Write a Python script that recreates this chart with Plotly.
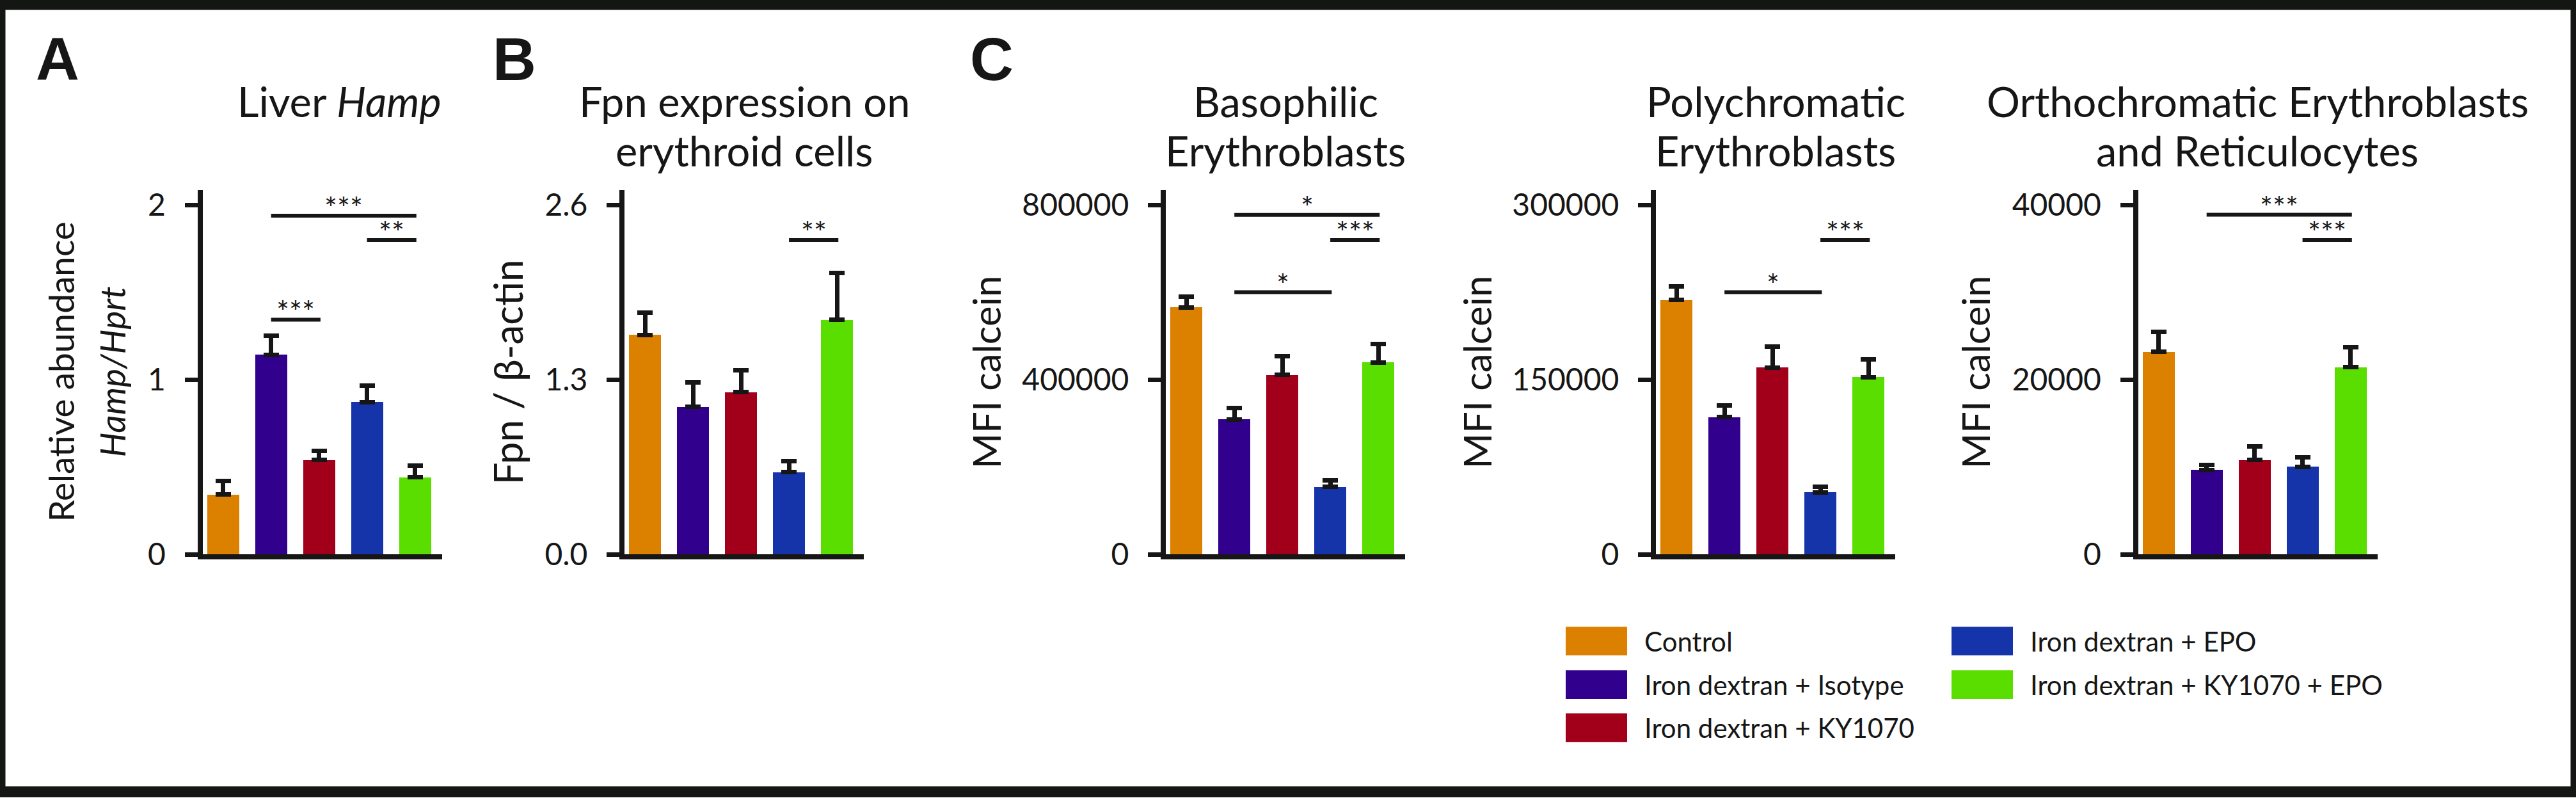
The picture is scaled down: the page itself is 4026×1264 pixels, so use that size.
import plotly.graph_objects as go

W, H = 4026, 1264

groups = ["Control", "Iron dextran + Isotype", "Iron dextran + KY1070",
          "Iron dextran + EPO", "Iron dextran + KY1070 + EPO"]
colors = ["#DC8000", "#31008C", "#A2001A", "#1634AA", "#5ADE00"]

# ---- data (means and upper SEM) ----
liver_hamp = [0.343, 1.142, 0.540, 0.872, 0.442]
liver_hamp_err = [0.076, 0.108, 0.051, 0.095, 0.065]

fpn_expr = [1.633, 1.097, 1.207, 0.612, 1.745]
fpn_expr_err = [0.163, 0.182, 0.162, 0.081, 0.348]

baso_mfi = [565500, 309000, 411000, 154600, 439500]
baso_mfi_err = [25100, 26000, 42300, 14600, 41400]

poly_mfi = [218300, 117900, 160300, 53400, 152200]
poly_mfi_err = [11600, 9700, 17800, 4900, 15200]

ortho_mfi = [23180, 9670, 10790, 10020, 21410]
ortho_mfi_err = [2290, 560, 1560, 1070, 2290]

# tick values / labels
ticks_A = [0, 1, 2]
ticklabels_A = ["0", "1", "2"]
ticks_B = [0, 1.3, 2.6]
ticklabels_B = ["0.0", "1.3", "2.6"]
ticks_C1 = [0, 400000, 800000]
ticklabels_C1 = ["0", "400000", "800000"]
ticks_C2 = [0, 150000, 300000]
ticklabels_C2 = ["0", "150000", "300000"]
ticks_C3 = [0, 20000, 40000]
ticklabels_C3 = ["0", "20000", "40000"]

# significance brackets: (from group, to group, height, label)
sig_A = [(1, 4, 1.938, "***"), (3, 4, 1.799, "**"), (1, 2, 1.343, "***")]
sig_B = [(3, 4, 2.338, "**")]
sig_C1 = [(1, 4, 777000, "*"), (3, 4, 719500, "***"), (1, 3, 600100, "*")]
sig_C2 = [(1, 3, 225050, "*"), (3, 4, 269800, "***")]
sig_C3 = [(1, 4, 38860, "***"), (3, 4, 35980, "***")]

titles = [["Liver <i>Hamp</i>"],
          ["Fpn expression on", "erythroid cells"],
          ["Basophilic", "Erythroblasts"],
          ["Polychromatic", "Erythroblasts"],
          ["Orthochromatic Erythroblasts", "and Reticulocytes"]]
ytitles = [["Relative abundance", "<i>Hamp/Hprt</i>"], ["Fpn / β-actin"],
           ["MFI calcein"], ["MFI calcein"], ["MFI calcein"]]
letters = [("A", 54), ("B", 768), ("C", 1514)]

panels = [
    (liver_hamp, liver_hamp_err, ticks_A, ticklabels_A, sig_A),
    (fpn_expr, fpn_expr_err, ticks_B, ticklabels_B, sig_B),
    (baso_mfi, baso_mfi_err, ticks_C1, ticklabels_C1, sig_C1),
    (poly_mfi, poly_mfi_err, ticks_C2, ticklabels_C2, sig_C2),
    (ortho_mfi, ortho_mfi_err, ticks_C3, ticklabels_C3, sig_C3),
]

# ---- layout geometry (pixels) ----
dom_left = [316.5, 976, 1822, 2588, 3341.5]
dom_w = 374
plot_top, plot_bot = 298, 883
title_x = [530, 1163, 2009, 2775, 3528]
title_lines_y = [155, 234]
ytitle_x = [[95, 175], [793], [1541], [2308], [3087]]
ytitle_size = [55, 62, 60, 60, 60]
ink = "#161616"
FONT = "Lato, Noto Sans, sans-serif"


def px(x):
    return x / W


def py(y):
    return 1 - y / H


fig = go.Figure()
annotations = []
shapes = []
layout = {}

for k, (vals, errs, tv, tt, sigs) in enumerate(panels):
    n = "" if k == 0 else str(k + 1)
    fig.add_trace(go.Bar(
        x=list(range(len(vals))), y=vals, width=0.667,
        marker=dict(color=colors, line=dict(width=0)),
        error_y=dict(type="data", symmetric=False, array=errs,
                     arrayminus=[0] * len(errs), color=ink, thickness=7, width=12),
        xaxis="x" + n, yaxis="y" + n, showlegend=False, hoverinfo="skip"))
    top = tv[-1] * 585 / 561.3
    layout["xaxis" + n] = dict(
        domain=[px(dom_left[k]), px(dom_left[k] + dom_w)], anchor="y" + n,
        range=[-0.43, 4.56], showline=True, linewidth=8, linecolor=ink,
        showticklabels=False, ticks="", showgrid=False, zeroline=False, fixedrange=True)
    layout["yaxis" + n] = dict(
        domain=[py(plot_bot), py(plot_top)], anchor="x" + n,
        range=[0, top], showline=True, linewidth=8, linecolor=ink,
        ticks="outside", ticklen=20, tickwidth=7, tickcolor=ink,
        tickvals=tv, ticktext=tt, tickfont=dict(family=FONT, size=48, color=ink),
        ticklabelstandoff=20,
        showgrid=False, zeroline=False, fixedrange=True)
    for (i, j, h, lab) in sigs:
        shapes.append(dict(type="line", xref="x" + n, yref="y" + n,
                           x0=i, x1=j + 0.03, y0=h, y1=h,
                           line=dict(color=ink, width=6)))
        annotations.append(dict(xref="x" + n, yref="y" + n, x=(i + j) / 2 + 0.015, y=h,
                                text=lab, showarrow=False, yanchor="bottom",
                                yshift=-17, font=dict(family=FONT, size=47, color=ink)))
    # panel title, one annotation per line
    for li, line in enumerate(titles[k]):
        annotations.append(dict(xref="paper", yref="paper", x=px(title_x[k]),
                                y=py(title_lines_y[li]),
                                text=line, showarrow=False, xanchor="center",
                                yanchor="middle",
                                font=dict(family=FONT, size=65, color=ink)))
    # y-axis title, one annotation per line
    for li, line in enumerate(ytitles[k]):
        annotations.append(dict(xref="paper", yref="paper", x=px(ytitle_x[k][li]),
                                y=py((plot_top + plot_bot) / 2),
                                text=line, showarrow=False, textangle=-90,
                                xanchor="center", yanchor="middle",
                                font=dict(family=FONT, size=ytitle_size[k], color=ink)))

for (t, x) in letters:
    annotations.append(dict(xref="paper", yref="paper", x=px(x), y=py(88), text="<b>" + t + "</b>",
                            showarrow=False, xanchor="left", yanchor="middle",
                            font=dict(family="Liberation Sans, Arial, sans-serif", size=94, color=ink)))

# legend (manual)
leg_cols = [2447, 3050]
leg_rows = [1022, 1092, 1161]
leg_pos = [(0, 0), (0, 1), (0, 2), (1, 0), (1, 1)]
for g, (c, r) in enumerate(leg_pos):
    x0 = leg_cols[c]
    yc = leg_rows[r]
    shapes.append(dict(type="rect", xref="paper", yref="paper",
                       x0=px(x0), x1=px(x0 + 96), y0=py(yc + 23), y1=py(yc - 23),
                       fillcolor=colors[g], line=dict(width=0)))
    annotations.append(dict(xref="paper", yref="paper", x=px(x0 + 121), y=py(yc),
                            text=groups[g], showarrow=False, xanchor="left", yanchor="middle",
                            font=dict(family=FONT, size=42, color=ink)))

# outer frame
shapes.append(dict(type="rect", xref="paper", yref="paper", x0=0, x1=1, y0=0, y1=1,
                   line=dict(color="#141614", width=17), fillcolor="rgba(0,0,0,0)"))

fig.update_layout(width=W, height=H, margin=dict(l=0, r=0, t=0, b=0, pad=0),
                  paper_bgcolor="white", plot_bgcolor="white",
                  annotations=annotations, shapes=shapes, bargap=0,
                  font=dict(family=FONT, color=ink), **layout)

fig.write_html("out.html", config={"displayModeBar": False},
               post_script="document.body.style.margin='0';document.body.style.overflow='hidden';")
